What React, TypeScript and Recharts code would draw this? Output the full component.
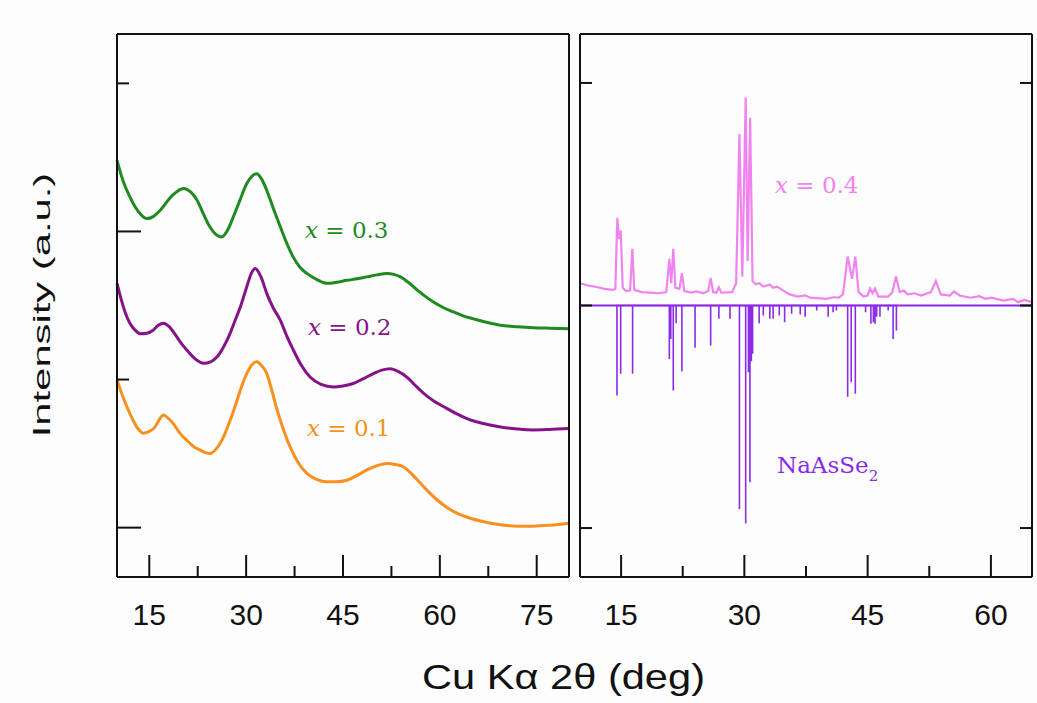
import { LineChart, Line, XAxis, YAxis, ReferenceLine } from 'recharts';

// 2θ (deg) vs offset intensity (a.u.)
const curveX03: number[][] = [
    [10, 8.44], [11, 8.0], [12, 7.7], [13.2, 7.42], [14.6, 7.26], [15.6, 7.3], [16.7, 7.43], [18.5, 7.72],
    [20.3, 7.87], [21.4, 7.8], [22.4, 7.63], [23.4, 7.35], [24.4, 7.09], [25.3, 6.94], [26.2, 6.89],
    [27.1, 7.02], [28, 7.29], [29, 7.62], [30.1, 7.97], [31, 8.13], [31.65, 8.17], [32.4, 8.06],
    [33.2, 7.83], [34.2, 7.47], [35.3, 7.09], [36.3, 6.76], [37.3, 6.48], [38.3, 6.28], [39.4, 6.15],
    [40.9, 6.03], [42.5, 5.95], [44, 5.97], [45.6, 6.01], [47.2, 6.04], [48.7, 6.08], [50.2, 6.12],
    [51.8, 6.15], [52.9, 6.13], [53.9, 6.08], [55.2, 5.96], [56.5, 5.81], [57.8, 5.68], [59, 5.57],
    [60.5, 5.46], [62.1, 5.37], [63.6, 5.29], [65.2, 5.23], [67.2, 5.16], [69.4, 5.1], [72, 5.07],
    [74.5, 5.05], [77, 5.04], [80, 5.03],
];
const curveX02: number[][] = [
    [10, 5.95], [10.7, 5.6], [11.3, 5.35], [12, 5.14], [12.8, 5.0], [13.6, 4.93], [14.6, 4.94],
    [15.6, 5.0], [16.4, 5.1], [17.2, 5.14], [18, 5.08], [18.7, 4.97], [19.7, 4.78], [20.8, 4.6],
    [22.1, 4.42], [23.4, 4.33], [24.5, 4.36], [25.5, 4.46], [26.5, 4.66], [27.5, 4.93], [28.3, 5.2],
    [29.1, 5.47], [30.1, 5.88], [30.8, 6.15], [31.4, 6.25], [32.3, 6.08], [33.2, 5.74], [34.2, 5.45],
    [35.3, 5.2], [36.3, 4.88], [37.3, 4.6], [38.5, 4.3], [39.9, 4.05], [41.6, 3.9], [43.5, 3.85],
    [45, 3.87], [46.6, 3.92], [48.2, 4.02], [49.7, 4.12], [51, 4.19], [52.3, 4.22], [53.6, 4.16],
    [54.9, 4.05], [56.2, 3.88], [57.5, 3.72], [59, 3.57], [60.6, 3.45], [62.4, 3.32], [64.2, 3.21],
    [66.7, 3.11], [69.4, 3.04], [72, 3.0], [74.5, 2.98], [77, 2.99], [80, 3.01],
];
const curveX01: number[][] = [
    [10, 3.99], [11, 3.62], [12, 3.31], [13, 3.05], [14.1, 2.91], [15, 2.95], [15.9, 3.04],
    [16.6, 3.2], [17.2, 3.28], [17.9, 3.22], [18.7, 3.11], [19.7, 2.92], [20.8, 2.77], [21.9, 2.64],
    [22.9, 2.57], [23.7, 2.52], [24.4, 2.5], [25.4, 2.6], [26.5, 2.84], [27.6, 3.2], [28.6, 3.58],
    [29.4, 3.9], [30.1, 4.12], [30.9, 4.3], [31.65, 4.36], [32.4, 4.28], [33.2, 4.12], [34, 3.77],
    [34.8, 3.38], [35.8, 2.98], [36.8, 2.64], [38, 2.33], [39.4, 2.1], [40.9, 1.98], [42.5, 1.93],
    [44, 1.93], [45.6, 1.96], [47.2, 2.06], [48.7, 2.17], [50.2, 2.25], [51.8, 2.3], [53.1, 2.28],
    [54.4, 2.23], [55.7, 2.08], [57, 1.9], [58.3, 1.72], [59.6, 1.56], [61.1, 1.41], [62.7, 1.29],
    [64.7, 1.19], [66.8, 1.12], [69.4, 1.06], [72, 1.03], [74.5, 1.03], [77.1, 1.05], [80, 1.09],
];

// right panel: measured pattern x = 0.4 (above zero) and NaAsSe2 reference sticks (below zero)
const patternX04: number[][] = [
    [10, 0.1], [11, 0.09], [12, 0.083], [13, 0.075], [14, 0.07], [14.3, 0.075], [14.54, 0.394], [14.75, 0.3],
    [14.95, 0.337], [15.2, 0.08], [15.6, 0.065], [16.1, 0.068], [16.37, 0.255], [16.6, 0.07], [17.5, 0.06],
    [18.5, 0.058], [19.5, 0.055], [20.5, 0.06], [20.87, 0.21], [21.1, 0.1], [21.35, 0.255], [21.6, 0.08],
    [22.1, 0.075], [22.4, 0.145], [22.7, 0.065], [23.5, 0.058], [24.2, 0.063], [25, 0.055], [25.6, 0.065],
    [25.9, 0.124], [26.2, 0.06], [26.6, 0.058], [26.9, 0.082], [27.2, 0.058], [28.5, 0.06], [29, 0.1],
    [29.4, 0.77], [29.75, 0.13], [30.16, 0.936], [30.4, 0.2], [30.7, 0.844], [31, 0.11], [31.4, 0.095],
    [31.8, 0.1], [32.3, 0.085], [33.1, 0.094], [33.5, 0.08], [34, 0.085], [34.6, 0.07], [35.5, 0.05],
    [36.5, 0.04], [37.4, 0.045], [38, 0.035], [40, 0.03], [40.8, 0.037], [41.5, 0.035], [42, 0.05],
    [42.57, 0.22], [43.1, 0.12], [43.5, 0.22], [43.9, 0.06], [44.5, 0.04], [45, 0.045], [45.3, 0.076],
    [45.6, 0.055], [45.9, 0.076], [46.3, 0.04], [47.5, 0.04], [48, 0.06], [48.45, 0.13], [48.9, 0.06],
    [49.4, 0.067], [49.9, 0.05], [50.7, 0.055], [51.5, 0.045], [52.7, 0.06], [53.3, 0.11], [53.9, 0.05],
    [55, 0.045], [55.5, 0.063], [56.2, 0.045], [57.5, 0.035], [58.6, 0.042], [59.3, 0.03], [60.1, 0.035],
    [61.5, 0.022], [62.7, 0.03], [63.3, 0.015], [64.1, 0.025], [65, 0.015],
];
const sticksNaAsSe2: number[][] = [
    [14.5, -0.404], [14.95, -0.307], [16.4, -0.307], [20.87, -0.24], [21.05, -0.15], [21.35, -0.382],
    [21.7, -0.08], [22.4, -0.297], [24, -0.19], [25.9, -0.18], [26.9, -0.06], [28.25, -0.06],
    [29.4, -0.914], [30.16, -0.98], [30.5, -0.3], [30.68, -0.794], [30.85, -0.25], [31, -0.217],
    [31.8, -0.08], [32.3, -0.045], [33.1, -0.06], [33.5, -0.06], [34.25, -0.045], [34.9, -0.075],
    [35.75, -0.037], [36.8, -0.04], [37.4, -0.05], [38.8, -0.022], [40.2, -0.05], [40.8, -0.03],
    [41.2, -0.022], [42.57, -0.41], [43, -0.345], [43.5, -0.397], [44.75, -0.03], [45.4, -0.082],
    [45.7, -0.075], [45.9, -0.082], [46.1, -0.05], [46.5, -0.05], [47.5, -0.022], [48.1, -0.15], [48.5, -0.112],
];

const leftXTicks = [15, 22.5, 30, 37.5, 45, 52.5, 60, 67.5, 75];
const rightXTicks = [15, 22.5, 30, 37.5, 45, 52.5, 60];
const leftYTicks = [1, 4, 7, 10];
const rightYTicks = [-1, 0, 1];

const toPts = (arr: number[][]) => arr.map(([x, y]) => ({ x, y }));
// each stick drawn as baseline -> peak -> baseline
const stickPath = sticksNaAsSe2.flatMap(([x, y]) => [{ x, y: 0 }, { x, y }, { x, y: 0 }]);

const INK = '#111';
const SANS = '"Liberation Sans", Arial, sans-serif';
const SERIF = '"DejaVu Serif", serif';

const isMajor = (v: number) => v % 15 === 0;

const BottomTick = ({ x, y, payload }: any) => (
    <g>
        <line x1={x} x2={x} y1={y} y2={y - (isMajor(payload.value) ? 22 : 11)} stroke={INK} strokeWidth={2} />
        {isMajor(payload.value) && (
            <text x={x} y={y + 48} textAnchor="middle" fontFamily={SANS} fontSize={30} fill={INK}>
                {payload.value}
            </text>
        )}
    </g>
);
const TopTick = ({ x, y, payload }: any) => (
    <line x1={x} x2={x} y1={y} y2={y + (isMajor(payload.value) ? 22 : 12)} stroke={INK} strokeWidth={2} />
);
const leftLen = (v: number) => (v === 1 || v === 7 ? 24 : 12);
const LeftYTickL = ({ x, y, payload }: any) => (
    <line x1={x} x2={x + leftLen(payload.value)} y1={y} y2={y} stroke={INK} strokeWidth={2} />
);
const LeftYTickR = ({ x, y, payload }: any) => (
    <line x1={x} x2={x - leftLen(payload.value)} y1={y} y2={y} stroke={INK} strokeWidth={2} />
);
const RightYTickL = ({ x, y }: any) => <line x1={x} x2={x + 12} y1={y} y2={y} stroke={INK} strokeWidth={2} />;
const RightYTickR = ({ x, y }: any) => <line x1={x} x2={x - 12} y1={y} y2={y} stroke={INK} strokeWidth={2} />;

const axisLine = { stroke: INK, strokeWidth: 2 };

const App = () => {
    return (
        <div style={{ position: 'absolute', left: 0, top: 0, width: 1037, height: 703, background: '#fdfdfd' }}>
            <div style={{ position: 'absolute', left: 0, top: 0 }}>
                <LineChart width={580} height={703} margin={{ top: 33, right: 10, bottom: 125, left: 116 }}>
                    <XAxis type="number" dataKey="x" domain={[10, 80]} ticks={leftXTicks} height={1}
                        tickSize={0} tickMargin={0} tickLine={false} axisLine={axisLine} tick={BottomTick} interval={0} />
                    <XAxis xAxisId="top" orientation="top" type="number" dataKey="x" domain={[10, 80]} ticks={leftXTicks}
                        height={1} tickSize={0} tickMargin={0} tickLine={false} axisLine={axisLine} tick={TopTick} interval={0} />
                    <YAxis type="number" domain={[0, 11]} ticks={leftYTicks} width={1} tickSize={0} tickMargin={0}
                        tickLine={false} axisLine={axisLine} tick={LeftYTickL} interval={0} />
                    <YAxis yAxisId="r" orientation="right" type="number" domain={[0, 11]} ticks={leftYTicks} width={1}
                        tickSize={0} tickMargin={0} tickLine={false} axisLine={axisLine} tick={LeftYTickR} interval={0} />
                    <Line data={toPts(curveX01)} dataKey="y" type="monotone" stroke="#f7901e" strokeWidth={3} dot={false} isAnimationActive={false} />
                    <Line data={toPts(curveX02)} dataKey="y" type="monotone" stroke="#86128a" strokeWidth={3} dot={false} isAnimationActive={false} />
                    <Line data={toPts(curveX03)} dataKey="y" type="monotone" stroke="#1f8a1f" strokeWidth={3} dot={false} isAnimationActive={false} />
                </LineChart>
            </div>
            <div style={{ position: 'absolute', left: 570, top: 0 }}>
                <LineChart width={467} height={703} margin={{ top: 33, right: 4, bottom: 125, left: 9 }}>
                    <XAxis type="number" dataKey="x" domain={[10, 65]} ticks={rightXTicks} height={1}
                        tickSize={0} tickMargin={0} tickLine={false} axisLine={axisLine} tick={BottomTick} interval={0} />
                    <XAxis xAxisId="top" orientation="top" type="number" dataKey="x" domain={[10, 65]} ticks={rightXTicks}
                        height={1} tickSize={0} tickMargin={0} tickLine={false} axisLine={axisLine} tick={TopTick} interval={0} />
                    <YAxis type="number" domain={[-1.22, 1.22]} ticks={rightYTicks} width={1} tickSize={0} tickMargin={0}
                        tickLine={false} axisLine={axisLine} tick={RightYTickL} interval={0} allowDataOverflow />
                    <YAxis yAxisId="r" orientation="right" type="number" domain={[-1.22, 1.22]} ticks={rightYTicks} width={1}
                        tickSize={0} tickMargin={0} tickLine={false} axisLine={axisLine} tick={RightYTickR} interval={0} allowDataOverflow />
                    <ReferenceLine y={0} stroke="#8b2be8" strokeWidth={2} />
                    <Line data={stickPath} dataKey="y" type="linear" stroke="#8b2be8" strokeWidth={1.6} dot={false} isAnimationActive={false} />
                    <Line data={toPts(patternX04)} dataKey="y" type="linear" stroke="#f183ef" strokeWidth={2.2} dot={false} isAnimationActive={false} />
                </LineChart>
            </div>
            <svg width={1037} height={703} style={{ position: 'absolute', left: 0, top: 0, pointerEvents: 'none' }}>
                <text x={422} y={689} fontFamily={SANS} fontSize={35} fill={INK} textLength={283} lengthAdjust="spacingAndGlyphs">
                    Cu Kα 2θ (deg)
                </text>
                <text transform="translate(50,305) rotate(-90) scale(1.74,1)" textAnchor="middle" fontFamily={SANS} fontSize={24} fill={INK}>
                    Intensity (a.u.)
                </text>
                <text x={305} y={238} fontFamily={SERIF} fontSize={23} fill="#1f8a1f">
                    <tspan fontStyle="italic">x</tspan> = 0.3
                </text>
                <text x={308} y={335} fontFamily={SERIF} fontSize={23} fill="#86128a">
                    <tspan fontStyle="italic">x</tspan> = 0.2
                </text>
                <text x={307} y={436} fontFamily={SERIF} fontSize={23} fill="#f7901e">
                    <tspan fontStyle="italic">x</tspan> = 0.1
                </text>
                <text x={775} y={193} fontFamily={SERIF} fontSize={23} fill="#f183ef">
                    <tspan fontStyle="italic">x</tspan> = 0.4
                </text>
                <text x={777} y={473} fontFamily={SERIF} fontSize={23} fill="#8b2be8">
                    NaAsSe<tspan fontSize={15} dy={8}>2</tspan>
                </text>
            </svg>
        </div>
    );
};

export default App;
